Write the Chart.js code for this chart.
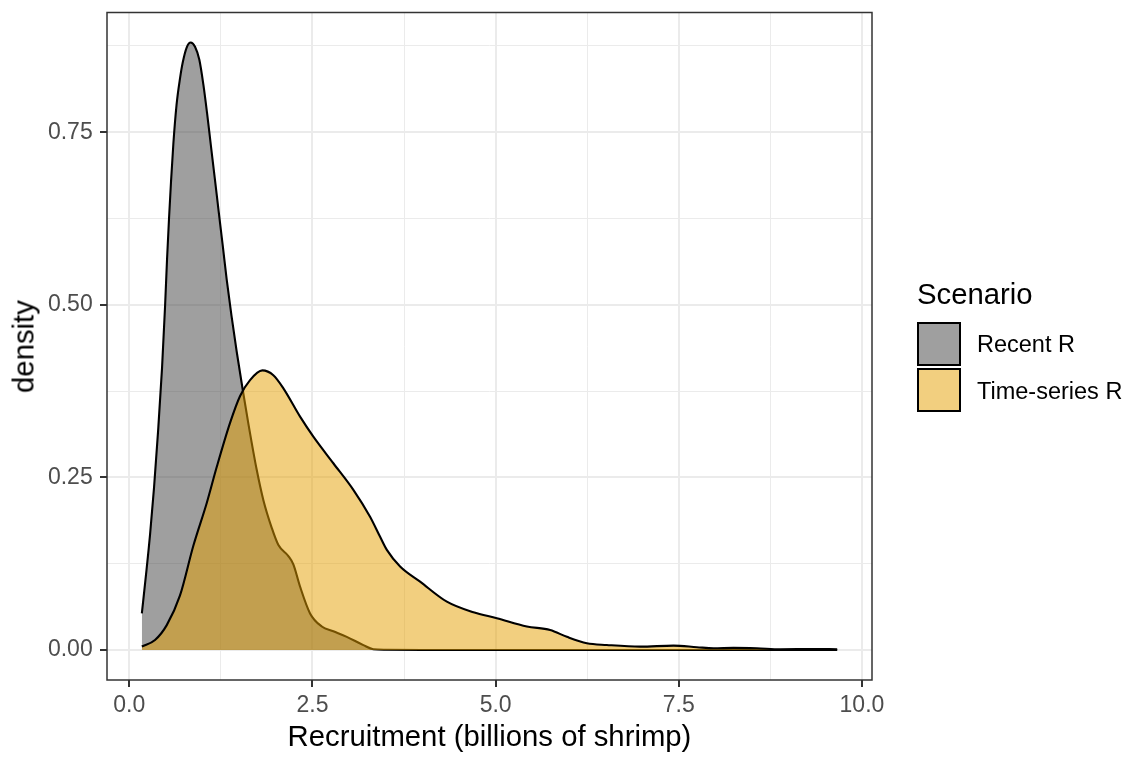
<!DOCTYPE html>
<html>
<head>
<meta charset="utf-8">
<script src="https://cdn.jsdelivr.net/npm/chart.js@4/dist/chart.umd.min.js"></script>
<style>
  html, body { margin: 0; padding: 0; background: #ffffff; }
  #wrap { position: relative; width: 1128px; height: 761px; overflow: hidden;
          font-family: 'Liberation Sans', Arial, sans-serif; }
  #plot { position: absolute; left: 0; top: 0; }
  .txt { position: absolute; white-space: nowrap; color: #000; }
  .xtitle { left: 0; width: 979px; text-align: center; top: 721px; height: 29px;
            line-height: 29px; font-size: 29.3px; }
  .ytitle { font-size: 29.3px; line-height: 29px; height: 29px; width: 200px; text-align: center;
            left: -77px; top: 332px; transform: rotate(-90deg); }
  .ltitle { left: 917px; top: 279px; height: 29px; line-height: 29px; font-size: 29.3px; }
  .key { position: absolute; left: 917px; width: 40px; height: 40px; border: 2px solid #000; }
  .ltext { left: 977px; height: 24px; line-height: 24px; font-size: 23.5px; }
</style>
</head>
<body>
<div id="wrap">
  <canvas id="plot" width="1128" height="761"></canvas>
  <div class="txt xtitle">Recruitment (billions of shrimp)</div>
  <div class="txt ytitle">density</div>
  <div class="txt ltitle">Scenario</div>
  <div class="key" style="top:322px; background: rgba(64,64,64,0.5);"></div>
  <div class="key" style="top:368px; background: rgba(230,159,0,0.5);"></div>
  <div class="txt ltext" style="top:332px;">Recent R</div>
  <div class="txt ltext" style="top:379px;">Time-series R</div>
</div>
<script>
// Kernel density estimates of recruitment (billions of shrimp) per scenario
const recentX = [0.171, 0.228, 0.283, 0.338, 0.392, 0.447, 0.488, 0.515, 0.542, 0.569, 0.601, 0.645,
                 0.692, 0.729, 0.784, 0.838, 0.897, 0.956, 1.011, 1.061, 1.111, 1.166, 1.220, 1.275,
                 1.329, 1.395, 1.466, 1.548, 1.625, 1.739, 1.830, 1.944, 2.035, 2.171, 2.239, 2.33,
                 2.467, 2.627, 2.785, 2.968, 3.195, 3.33, 3.5, 4.0, 5.0, 6.0, 7.0, 8.0, 9.0, 9.662];
const recentY = [0.053, 0.109, 0.167, 0.236, 0.316, 0.409, 0.498, 0.566, 0.625, 0.678, 0.733, 0.790,
                 0.828, 0.851, 0.873, 0.880, 0.874, 0.855, 0.819, 0.778, 0.733, 0.684, 0.635, 0.586,
                 0.537, 0.484, 0.432, 0.377, 0.328, 0.261, 0.217, 0.177, 0.152, 0.136, 0.124, 0.092,
                 0.053, 0.034, 0.027, 0.019, 0.007, 0.001, 0.0003, 0, 0, 0, 0, 0, 0, 0];

const seriesX = [0.171, 0.351, 0.511, 0.692, 0.874, 1.057, 1.193, 1.375, 1.512, 1.648, 1.816, 1.966,
                 2.103, 2.331, 2.512, 2.785, 3.058, 3.286, 3.423, 3.515, 3.696, 3.969, 4.334, 4.697,
                 5.016, 5.426, 5.744, 5.972, 6.245, 6.518, 6.973, 7.428, 7.747, 7.974, 8.247, 8.566,
                 8.885, 9.34, 9.662];
const seriesY = [0.005, 0.0145, 0.036, 0.079, 0.151, 0.213, 0.265, 0.329, 0.368, 0.391, 0.405, 0.398,
                 0.379, 0.338, 0.309, 0.2705, 0.232, 0.193, 0.164, 0.145, 0.121, 0.099, 0.070, 0.0546,
                 0.046, 0.034, 0.029, 0.019, 0.0097, 0.0072, 0.0048, 0.0063, 0.004, 0.0024, 0.003, 0.0024,
                 0.001, 0.0014, 0.001];

const scenarioNames = ['Recent R', 'Time-series R'];
const xTickValues = [0, 1.25, 2.5, 3.75, 5, 6.25, 7.5, 8.75, 10];
const xTickLabels = ['0.0', '', '2.5', '', '5.0', '', '7.5', '', '10.0'];
const yTickValues = [0, 0.125, 0.25, 0.375, 0.5, 0.625, 0.75, 0.875];
const yTickLabels = ['0.00', '', '0.25', '', '0.50', '', '0.75', ''];

const toPoints = (xs, ys) => xs.map((x, i) => ({ x: x, y: ys[i] }));

const tickFont = { family: "'Liberation Sans', Arial, sans-serif", size: 23 };
const isMajor = (labels, ctx) => ctx.tick && labels[ctx.index] !== '';

// panel border drawn over the data, as in the bw theme
const panelBorder = {
  id: 'panelBorder',
  afterDatasetsDraw(chart) {
    const { ctx, chartArea: a } = chart;
    ctx.save();
    ctx.strokeStyle = '#333333';
    ctx.lineWidth = 1.5;
    ctx.strokeRect(a.left, a.top, a.right - a.left, a.bottom - a.top);
    ctx.restore();
  }
};

new Chart(document.getElementById('plot'), {
  type: 'line',
  data: {
    datasets: [
      {
        label: scenarioNames[0],
        data: toPoints(recentX, recentY),
        fill: 'origin',
        backgroundColor: 'rgba(64,64,64,0.5)',
        borderColor: '#000000',
        borderWidth: 2.1,
        pointRadius: 0,
        cubicInterpolationMode: 'monotone',
        order: 1
      },
      {
        label: scenarioNames[1],
        data: toPoints(seriesX, seriesY),
        fill: 'origin',
        backgroundColor: 'rgba(230,159,0,0.5)',
        borderColor: '#000000',
        borderWidth: 2.1,
        pointRadius: 0,
        cubicInterpolationMode: 'monotone',
        order: 0
      }
    ]
  },
  options: {
    responsive: false,
    animation: false,
    events: [],
    layout: { padding: { left: 0, top: 12.5, right: 256, bottom: 0 } },
    plugins: { legend: { display: false }, tooltip: { enabled: false } },
    scales: {
      x: {
        type: 'linear',
        min: -0.3045,
        max: 10.137,
        afterFit(scale) {
          scale.height = 81;
          scale.paddingLeft = 0;
          scale.paddingRight = 0;
        },
        afterBuildTicks(scale) { scale.ticks = xTickValues.map(v => ({ value: v })); },
        border: { display: false },
        grid: {
          color: '#EBEBEB',
          lineWidth: ctx => isMajor(xTickLabels, ctx) ? 2 : 1,
          tickLength: 7,
          tickWidth: 2,
          tickColor: ctx => isMajor(xTickLabels, ctx) ? '#333333' : 'rgba(0,0,0,0)'
        },
        ticks: {
          autoSkip: false,
          maxRotation: 0,
          padding: 5,
          color: '#4D4D4D',
          font: tickFont,
          callback: (v, i) => xTickLabels[i]
        }
      },
      y: {
        type: 'linear',
        min: -0.0435,
        max: 0.9235,
        afterFit(scale) {
          scale.width = 107;
          scale.paddingTop = 0;
          scale.paddingBottom = 0;
        },
        afterBuildTicks(scale) { scale.ticks = yTickValues.map(v => ({ value: v })); },
        border: { display: false },
        grid: {
          color: '#EBEBEB',
          lineWidth: ctx => isMajor(yTickLabels, ctx) ? 2 : 1,
          tickLength: 7,
          tickWidth: 2,
          tickColor: ctx => isMajor(yTickLabels, ctx) ? '#333333' : 'rgba(0,0,0,0)'
        },
        ticks: {
          autoSkip: false,
          padding: 7.3,
          color: '#4D4D4D',
          font: tickFont,
          callback: (v, i) => yTickLabels[i]
        }
      }
    }
  },
  plugins: [panelBorder]
});
</script>
</body>
</html>
